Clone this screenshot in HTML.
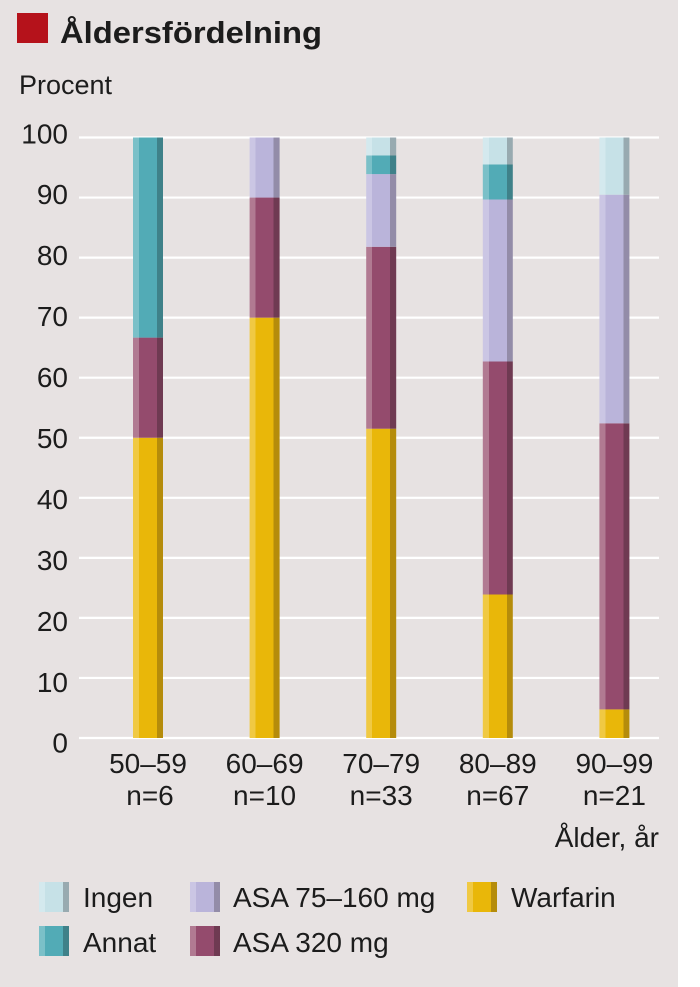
<!DOCTYPE html>
<html><head><meta charset="utf-8"><style>
html,body{margin:0;padding:0;background:#fff;}
svg{display:block;}
text{font-family:"Liberation Sans",sans-serif;fill:#1c1c1c;}
</style></head><body>
<svg width="700" height="987" viewBox="0 0 700 987" xmlns="http://www.w3.org/2000/svg">
<defs>
<linearGradient id="gW" x1="0" y1="0" x2="1" y2="0"><stop offset="0" stop-color="#f0c943"/><stop offset="0.2" stop-color="#f0c943"/><stop offset="0.2" stop-color="#e9b709"/><stop offset="0.8" stop-color="#e9b709"/><stop offset="0.8" stop-color="#b58c0b"/><stop offset="1" stop-color="#b58c0b"/></linearGradient>
<linearGradient id="gA" x1="0" y1="0" x2="1" y2="0"><stop offset="0" stop-color="#b17a92"/><stop offset="0.2" stop-color="#b17a92"/><stop offset="0.2" stop-color="#944b6d"/><stop offset="0.8" stop-color="#944b6d"/><stop offset="0.8" stop-color="#6f3a52"/><stop offset="1" stop-color="#6f3a52"/></linearGradient>
<linearGradient id="gL" x1="0" y1="0" x2="1" y2="0"><stop offset="0" stop-color="#cbc6e4"/><stop offset="0.2" stop-color="#cbc6e4"/><stop offset="0.2" stop-color="#bab4da"/><stop offset="0.8" stop-color="#bab4da"/><stop offset="0.8" stop-color="#938ca8"/><stop offset="1" stop-color="#938ca8"/></linearGradient>
<linearGradient id="gN" x1="0" y1="0" x2="1" y2="0"><stop offset="0" stop-color="#7bc0c8"/><stop offset="0.2" stop-color="#7bc0c8"/><stop offset="0.2" stop-color="#52abb6"/><stop offset="0.8" stop-color="#52abb6"/><stop offset="0.8" stop-color="#3f8189"/><stop offset="1" stop-color="#3f8189"/></linearGradient>
<linearGradient id="gI" x1="0" y1="0" x2="1" y2="0"><stop offset="0" stop-color="#d4e9ee"/><stop offset="0.2" stop-color="#d4e9ee"/><stop offset="0.2" stop-color="#c6e1e7"/><stop offset="0.8" stop-color="#c6e1e7"/><stop offset="0.8" stop-color="#98aab0"/><stop offset="1" stop-color="#98aab0"/></linearGradient>
</defs>
<rect x="0" y="0" width="678" height="987" fill="#e7e2e2"/>
<!-- title -->
<rect x="17" y="13" width="31" height="30" fill="#b5121b"/>
<text x="60" y="43" font-size="31" font-weight="bold" textLength="262" lengthAdjust="spacingAndGlyphs">Åldersfördelning</text>
<text x="19" y="94" font-size="27">Procent</text>
<!-- gridlines -->
<g stroke="#ffffff" stroke-width="2.2">
<line x1="79" x2="659" y1="137.5" y2="137.5"/>
<line x1="79" x2="659" y1="197.55" y2="197.55"/>
<line x1="79" x2="659" y1="257.6" y2="257.6"/>
<line x1="79" x2="659" y1="317.65" y2="317.65"/>
<line x1="79" x2="659" y1="377.7" y2="377.7"/>
<line x1="79" x2="659" y1="437.75" y2="437.75"/>
<line x1="79" x2="659" y1="497.8" y2="497.8"/>
<line x1="79" x2="659" y1="557.85" y2="557.85"/>
<line x1="79" x2="659" y1="617.9" y2="617.9"/>
<line x1="79" x2="659" y1="677.95" y2="677.95"/>
<line x1="79" x2="659" y1="738" y2="738"/>
</g>
<!-- y labels -->
<g font-size="28" text-anchor="end">
<text x="68" y="143.3">100</text>
<text x="68" y="204.2">90</text>
<text x="68" y="265.2">80</text>
<text x="68" y="326.1">70</text>
<text x="68" y="387.1">60</text>
<text x="68" y="448">50</text>
<text x="68" y="508.9">40</text>
<text x="68" y="569.9">30</text>
<text x="68" y="630.8">20</text>
<text x="68" y="691.8">10</text>
<text x="68" y="752.7">0</text>
</g>
<!-- bars -->
<!-- bar 1 -->
<rect x="133" y="437.75" width="30" height="300.25" fill="url(#gW)"/>
<rect x="133" y="337.6" width="30" height="100.15" fill="url(#gA)"/>
<rect x="133" y="137.5" width="30" height="200.1" fill="url(#gN)"/>
<!-- bar 2 -->
<rect x="249.6" y="317.65" width="30" height="420.35" fill="url(#gW)"/>
<rect x="249.6" y="197.55" width="30" height="120.1" fill="url(#gA)"/>
<rect x="249.6" y="137.5" width="30" height="60.05" fill="url(#gL)"/>
<!-- bar 3 -->
<rect x="366.2" y="428.7" width="30" height="309.3" fill="url(#gW)"/>
<rect x="366.2" y="246.8" width="30" height="181.9" fill="url(#gA)"/>
<rect x="366.2" y="174.1" width="30" height="72.7" fill="url(#gL)"/>
<rect x="366.2" y="155.5" width="30" height="18.6" fill="url(#gN)"/>
<rect x="366.2" y="137.5" width="30" height="18" fill="url(#gI)"/>
<!-- bar 4 -->
<rect x="482.8" y="594.5" width="30" height="143.5" fill="url(#gW)"/>
<rect x="482.8" y="361.5" width="30" height="233" fill="url(#gA)"/>
<rect x="482.8" y="199.5" width="30" height="162" fill="url(#gL)"/>
<rect x="482.8" y="164.5" width="30" height="35" fill="url(#gN)"/>
<rect x="482.8" y="137.5" width="30" height="27" fill="url(#gI)"/>
<!-- bar 5 -->
<rect x="599.4" y="709.4" width="30" height="28.6" fill="url(#gW)"/>
<rect x="599.4" y="423.3" width="30" height="286.1" fill="url(#gA)"/>
<rect x="599.4" y="194.7" width="30" height="228.6" fill="url(#gL)"/>
<rect x="599.4" y="137.5" width="30" height="57.2" fill="url(#gI)"/>
<!-- x labels -->
<g font-size="28" text-anchor="middle">
<text x="148" y="773">50–59</text>
<text x="150" y="805">n=6</text>
<text x="264.6" y="773">60–69</text>
<text x="264.6" y="805">n=10</text>
<text x="381.2" y="773">70–79</text>
<text x="381.2" y="805">n=33</text>
<text x="497.8" y="773">80–89</text>
<text x="497.8" y="805">n=67</text>
<text x="614.4" y="773">90–99</text>
<text x="614.4" y="805">n=21</text>
</g>
<text x="659" y="847" font-size="28" text-anchor="end">Ålder, år</text>
<!-- legend -->
<rect x="39" y="882" width="30" height="30" fill="url(#gI)"/>
<text x="83" y="907" font-size="28">Ingen</text>
<rect x="190" y="882" width="30" height="30" fill="url(#gL)"/>
<text x="233" y="907" font-size="28">ASA 75–160 mg</text>
<rect x="467" y="882" width="30" height="30" fill="url(#gW)"/>
<text x="511" y="907" font-size="28">Warfarin</text>
<rect x="39" y="926" width="30" height="30" fill="url(#gN)"/>
<text x="83" y="952" font-size="28">Annat</text>
<rect x="190" y="926" width="30" height="30" fill="url(#gA)"/>
<text x="233" y="952" font-size="28">ASA 320 mg</text>
</svg>
</body></html>
